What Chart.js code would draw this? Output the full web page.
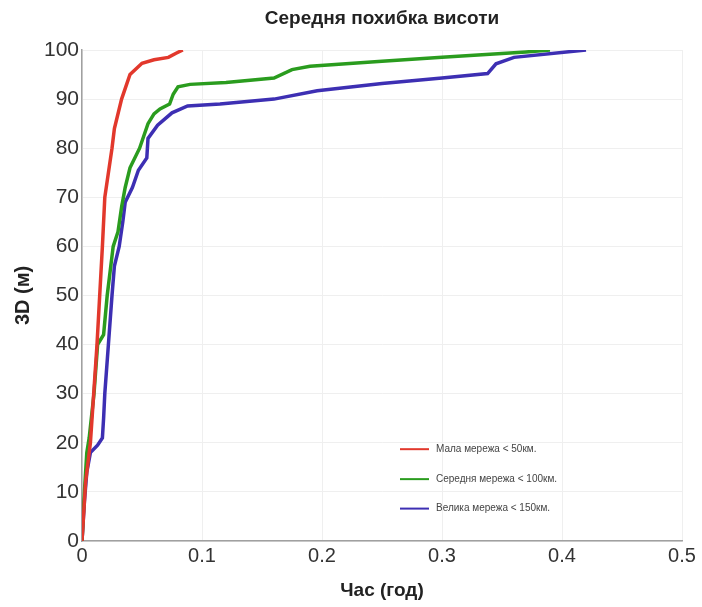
<!DOCTYPE html>
<html>
<head>
<meta charset="utf-8">
<script src="https://cdn.jsdelivr.net/npm/chart.js@4.4.1/dist/chart.umd.min.js"></script>
<style>
  html, body { margin: 0; padding: 0; background: #fff; }
  #wrap { width: 702px; height: 607px; }
</style>
</head>
<body>
<div id="wrap"><canvas id="c" width="702" height="607"></canvas></div>
<script>
// ---- data (time in hours, 3D error in metres) ----
const chartTitle = 'Середня похибка висоти';
const xTitle = 'Час (год)';
const yTitle = '3D (м)';
const seriesLabels = ['Мала мережа < 50км.', 'Середня мережа < 100км.', 'Велика мережа < 150км.'];

const smallX = [0, 0.003, 0.007, 0.0125, 0.017, 0.019, 0.025, 0.027, 0.033, 0.04, 0.05, 0.06, 0.072, 0.078, 0.084];
const smallY = [0, 12, 20, 40, 60, 70, 80, 84, 90, 95, 97.3, 98, 98.5, 99.3, 100];

const mediumX = [0, 0.002, 0.004, 0.006, 0.01, 0.013, 0.018, 0.021, 0.026, 0.03, 0.033, 0.036, 0.04, 0.048, 0.055, 0.06, 0.065, 0.073, 0.076, 0.08, 0.09, 0.12, 0.16, 0.175, 0.19, 0.25, 0.3, 0.37, 0.39];
const mediumY = [0, 10, 18, 21, 30, 40, 42, 50, 60, 63, 68, 72, 76, 80, 85, 87, 88, 89, 91, 92.5, 93, 93.4, 94.3, 96, 96.7, 97.7, 98.5, 99.6, 100];

const largeX = [0, 0.002, 0.004, 0.007, 0.013, 0.017, 0.018, 0.019, 0.022, 0.025, 0.027, 0.031, 0.034, 0.036, 0.042, 0.047, 0.054, 0.055, 0.063, 0.075, 0.088, 0.115, 0.16, 0.196, 0.25, 0.3, 0.338, 0.345, 0.36, 0.42];
const largeY = [0, 8, 14, 18, 19.5, 21, 25, 30, 40, 50, 56, 60, 65, 69, 72, 75.5, 78, 82, 84.7, 87.2, 88.6, 89, 90, 91.7, 93.2, 94.3, 95.2, 97.2, 98.5, 100];

const xTicks = [0, 0.1, 0.2, 0.3, 0.4, 0.5];
const xTickLabels = ['0', '0.1', '0.2', '0.3', '0.4', '0.5'];
const yTicks = [0, 10, 20, 30, 40, 50, 60, 70, 80, 90, 100];
const yTickLabels = ['0', '10', '20', '30', '40', '50', '60', '70', '80', '90', '100'];

const colors = ['#e2382c', '#2a9c1e', '#3d2fb3'];

function pts(xs, ys) { return xs.map((x, i) => ({ x: x, y: ys[i] })); }

const FONT = "'Liberation Sans', Arial, sans-serif";

const insideLegend = {
  id: 'insideLegend',
  afterDatasetsDraw(chart) {
    const ctx = chart.ctx;
    const xs = chart.scales.x, ys = chart.scales.y;
    const x0 = xs.getPixelForValue(0.265);
    const rowY = [ys.getPixelForValue(18.7), ys.getPixelForValue(12.6), ys.getPixelForValue(6.6)];
    ctx.save();
    ctx.font = '10px ' + FONT;
    ctx.textBaseline = 'middle';
    chart.data.datasets.forEach((ds, i) => {
      const y = rowY[i];
      ctx.strokeStyle = ds.borderColor;
      ctx.lineWidth = 2;
      ctx.beginPath();
      ctx.moveTo(x0, y);
      ctx.lineTo(x0 + 29, y);
      ctx.stroke();
      ctx.fillStyle = '#444';
      ctx.fillText(ds.label, x0 + 36, y);
    });
    ctx.restore();
  }
};

new Chart(document.getElementById('c'), {
  type: 'scatter',
  data: {
    datasets: [
      { label: seriesLabels[0], data: pts(smallX, smallY), borderColor: colors[0], backgroundColor: colors[0] },
      { label: seriesLabels[1], data: pts(mediumX, mediumY), borderColor: colors[1], backgroundColor: colors[1] },
      { label: seriesLabels[2], data: pts(largeX, largeY), borderColor: colors[2], backgroundColor: colors[2] }
    ].map(d => Object.assign(d, { showLine: true, borderWidth: 3.5, pointRadius: 0, tension: 0, fill: false }))
  },
  options: {
    responsive: false,
    animation: false,
    layout: { padding: { top: 0, right: 20, bottom: 0, left: 0 } },
    plugins: {
      legend: { display: false },
      tooltip: { enabled: false },
      title: {
        display: true,
        text: chartTitle,
        fullSize: false,
        color: '#222',
        font: { family: FONT, size: 19, weight: 'bold' },
        padding: { top: 7.6, bottom: 19.6 }
      }
    },
    scales: {
      x: {
        type: 'linear',
        min: 0, max: 0.5,
        afterBuildTicks: s => { s.ticks = xTicks.map(v => ({ value: v })); },
        afterFit: s => { s.height = 66; },
        ticks: {
          callback: (v) => { const i = xTicks.findIndex(t => Math.abs(t - v) < 1e-9); return i >= 0 ? xTickLabels[i] : ''; },
          color: '#333', font: { family: FONT, size: 20 }, padding: 0, maxRotation: 0
        },
        grid: { color: '#efefef', lineWidth: 1, tickLength: 3, drawTicks: true, tickColor: '#fff' },
        border: { display: true, color: '#a0a0a0', width: 1.5 },
        title: { display: true, text: xTitle, color: '#222', font: { family: FONT, size: 19, weight: 'bold' }, padding: { top: 0, bottom: 4.6 } }
      },
      y: {
        type: 'linear',
        min: 0, max: 100,
        afterBuildTicks: s => { s.ticks = yTicks.map(v => ({ value: v })); },
        afterFit: s => { s.width = 82; },
        ticks: {
          callback: (v) => { const i = yTicks.indexOf(v); return i >= 0 ? yTickLabels[i] : ''; },
          color: '#333', font: { family: FONT, size: 21 }, padding: 3
        },
        grid: { color: '#efefef', lineWidth: 1, tickLength: 0 },
        border: { display: true, color: '#a0a0a0', width: 1.5 },
        title: { display: true, text: yTitle, color: '#222', font: { family: FONT, size: 20, weight: 'bold' }, padding: { top: 11, bottom: 0 } }
      }
    }
  },
  plugins: [insideLegend]
});
</script>
</body>
</html>
